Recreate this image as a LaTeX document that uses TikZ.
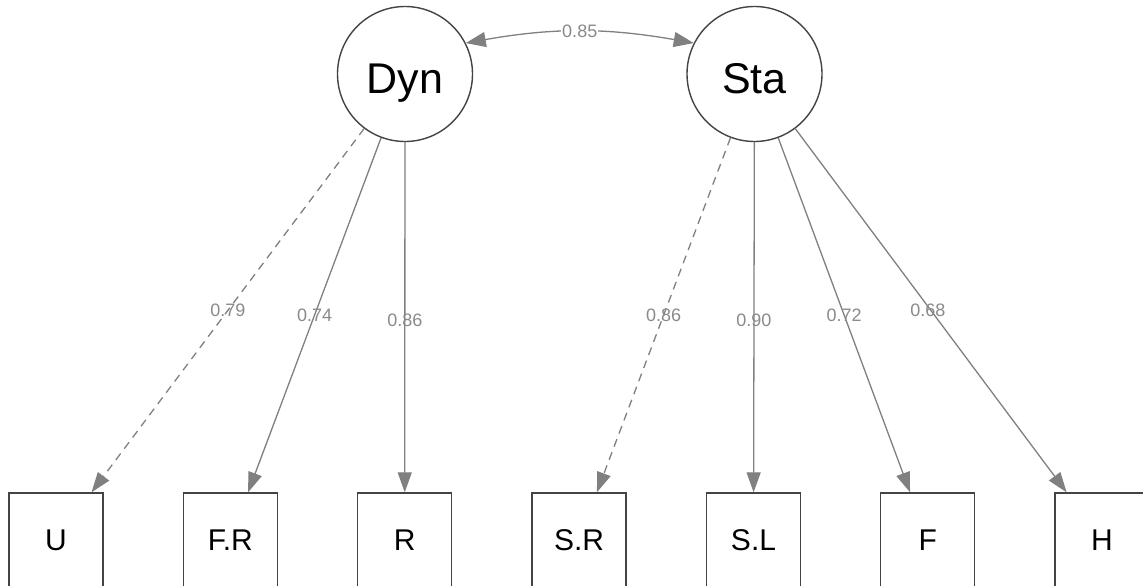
\documentclass[tikz,border=0pt]{standalone}
\usepackage{fontspec}
\setmainfont{Liberation Sans}
\usetikzlibrary{arrows.meta}
\definecolor{edgegray}{HTML}{808080}
\definecolor{labelgray}{HTML}{8A8A8A}
\definecolor{bordergray}{HTML}{444444}
\tikzset{
  latent/.style={circle, draw=bordergray, line width=1.4pt, minimum size=135pt,
    inner sep=0pt, text height=38pt, text depth=0pt,
    font=\fontsize{43}{43}\selectfont},
  manifest/.style={rectangle, draw=bordergray, line width=1.4pt,
    minimum width=94pt, minimum height=94pt, inner sep=0pt,
    font=\fontsize{30}{30}\selectfont},
  tip/.style={Triangle[length=20pt,width=14pt]},
  loading/.style={draw=edgegray, line width=1.3pt, -{Triangle[length=20pt,width=14pt]},
    color=edgegray},
  dashload/.style={loading, dash pattern=on 8pt off 6pt},
  coefflabel/.style={midway, text=labelgray, inner sep=1pt,
    font=\fontsize{18}{18}\selectfont},
  covar/.style={draw=edgegray, line width=1.3pt, color=edgegray,
    {Triangle[length=20pt,width=15pt]}-{Triangle[length=20pt,width=15pt]}}
}
\begin{document}
\begin{tikzpicture}[x=1pt, y=-1pt]
  \useasboundingbox (0,0) rectangle (1143,586);
  \fill[white] (0,0) rectangle (1143,586);

  % latent factors
  \node[latent] (Dyn) at (405,74) {Dyn};
  \node[latent] (Sta) at (754.5,74) {Sta};

  % indicators
  \node[manifest] (U)  at (56,540)    {U};
  \node[manifest] (FR) at (230.3,540) {F.R};
  \node[manifest] (R)  at (404.7,540) {R};
  \node[manifest] (SR) at (579,540)   {S.R};
  \node[manifest] (SL) at (753.5,540) {S.L};
  \node[manifest] (F)  at (927.7,540) {F};
  \node[manifest] (H)  at (1102,540)  {H};

  % factor loadings
  \draw[dashload] (Dyn) -- (U)  node[coefflabel] {0.79};
  \draw[loading]  (Dyn) -- (FR) node[coefflabel] {0.74};
  \draw[loading]  (Dyn) -- (R)  node[coefflabel, yshift=-3pt] {0.86};
  \draw[dashload] (Sta) -- (SR) node[coefflabel] {0.86};
  \draw[loading]  (Sta) -- (SL) node[coefflabel, yshift=-3pt] {0.90};
  \draw[loading]  (Sta) -- (F)  node[coefflabel] {0.72};
  \draw[loading]  (Sta) -- (H)  node[coefflabel, xshift=-3pt] {0.68};

  % factor covariance
  \draw[covar] (Dyn.27) to[bend left=10]
    node[midway, fill=white, text=labelgray, inner sep=1pt,
         font=\fontsize{18}{18}\selectfont] {0.85} (Sta.153);
\end{tikzpicture}
\end{document}
